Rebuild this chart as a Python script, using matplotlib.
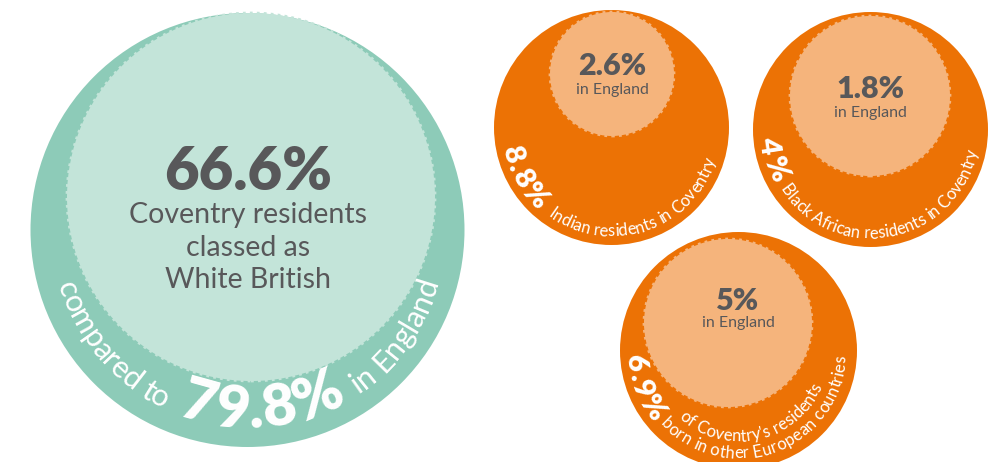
import numpy as np
import matplotlib
matplotlib.use("Agg")
import matplotlib.pyplot as plt
from matplotlib.patches import Circle
from matplotlib.font_manager import FontProperties

# data
groups = ["White British", "Indian", "Black African", "Other European born"]
coventry = [66.6, 8.8, 4.0, 6.9]
england = [79.8, 2.6, 1.8, 5.0]

def pct(v):
    return f"{v:g}%"

W_PX, H_PX = 1008, 462
teal_dark, teal_light = "#8dcbb8", "#c3e4d9"
orange, orange_light = "#ec7205", "#f5b47c"
grey = "#58585a"

FAM = ["Lato", "DejaVu Sans"]
def fp(size, weight="normal"):
    return FontProperties(family=FAM, size=size, weight=weight)

fig = plt.figure(figsize=(W_PX / 100, H_PX / 100), dpi=100)
ax = fig.add_axes([0, 0, 1, 1])
ax.set_xlim(0, W_PX)
ax.set_ylim(0, H_PX)
ax.axis("off")
renderer = fig.canvas.get_renderer()


def Y(y_img):
    return H_PX - y_img


def width(s, prop):
    w, h, d = renderer.get_text_width_height_descent(s, prop, ismath=False)
    return w


def arc_text(cx, cy, r, a0, a1, text, prop, color="white"):
    # text along the bottom of a circle between angles a0..a1,
    # letters upright towards the centre, spacing stretched to fit
    ref = width("|", prop)
    edges = [width(text[:i] + "|", prop) - ref for i in range(len(text) + 1)]
    r_mid = r - 0.36 * prop.get_size_in_points() * 100 / 72
    target = np.radians(a1 - a0) * r_mid
    extra = (target - edges[-1]) / max(len(text) - 1, 1)
    for i, ch in enumerate(text):
        if ch == " ":
            continue
        s = (edges[i] + edges[i + 1]) / 2 + i * extra
        th = np.radians(a0) + s / r_mid
        ax.text(cx + r * np.cos(th), Y(cy) + r * np.sin(th), ch,
                rotation=np.degrees(th) + 90, rotation_mode="anchor",
                ha="center", va="baseline", fontproperties=prop, color=color)


def bubble(outer, inner, c_out, c_in):
    ax.add_patch(Circle((outer[0], Y(outer[1])), outer[2], color=c_out, lw=0))
    ax.add_patch(Circle((inner[0], Y(inner[1])), inner[2], facecolor=c_in,
                        edgecolor=c_in, lw=2, linestyle=(0, (1, 1.5))))


# big White British circle
big_out, big_in = (247.5, 230, 217), (251, 197, 184)
bubble(big_out, big_in, teal_dark, teal_light)
ax.text(248, Y(190), pct(coventry[0]), ha="center", va="baseline",
        fontproperties=fp(43, "heavy"), color=grey)
for txt, yb in zip(["Coventry residents", "classed as", groups[0]], [223, 256, 288]):
    ax.text(248, Y(yb), txt, ha="center", va="baseline",
            fontproperties=fp(20.5), color=grey)
arc_text(big_out[0], big_out[1], 198, 196, 245, "compared to", fp(22))
arc_text(big_out[0], big_out[1], 198, 249, 301, pct(england[0]), fp(42, "heavy"))
arc_text(big_out[0], big_out[1], 198, 304, 345, "in England", fp(22))

# orange circles: outer = Coventry, inner = England
orange_out = [(611.5, 127.5, 117.5), (870.5, 129.5, 117.5)]
orange_in = [(612, 74, 62), (870, 96, 80)]
eng_base = [(75, 94), (98, 117)]
arc_lab = ["Indian residents in Coventry", "Black African residents in Coventry"]
num_span = [(190, 229), (184, 210)]
lab_span = [(234, 343), (213, 349)]
for k in range(2):
    o, n = orange_out[k], orange_in[k]
    bubble(o, n, orange, orange_light)
    ax.text(n[0], Y(eng_base[k][0]), pct(england[k + 1]), ha="center",
            va="baseline", fontproperties=fp(22, "heavy"), color=grey)
    ax.text(n[0], Y(eng_base[k][1]), "in England", ha="center",
            va="baseline", fontproperties=fp(11.5), color=grey)
    arc_text(o[0], o[1], 111, *num_span[k], pct(coventry[k + 1]), fp(21, "heavy"))
    arc_text(o[0], o[1], 109, *lab_span[k], arc_lab[k], fp(12))

# European born circle
eu_out, eu_in = (738.5, 350.5, 118.5), (728, 323, 84)
bubble(eu_out, eu_in, orange, orange_light)
ax.text(eu_in[0] + 10, Y(310), pct(england[3]), ha="center", va="baseline",
        fontproperties=fp(22, "heavy"), color=grey)
ax.text(eu_in[0] + 10, Y(327), "in England", ha="center", va="baseline",
        fontproperties=fp(11.5), color=grey)
arc_text(eu_out[0], eu_out[1], 112, 182, 221, pct(coventry[3]), fp(21, "heavy"))
arc_text(eu_out[0], eu_out[1], 91, 228, 337, "of Coventry's residents", fp(12))
arc_text(eu_out[0], eu_out[1], 108, 223, 357, "born in other European countries", fp(12))

fig.savefig("out.png", dpi=100)
